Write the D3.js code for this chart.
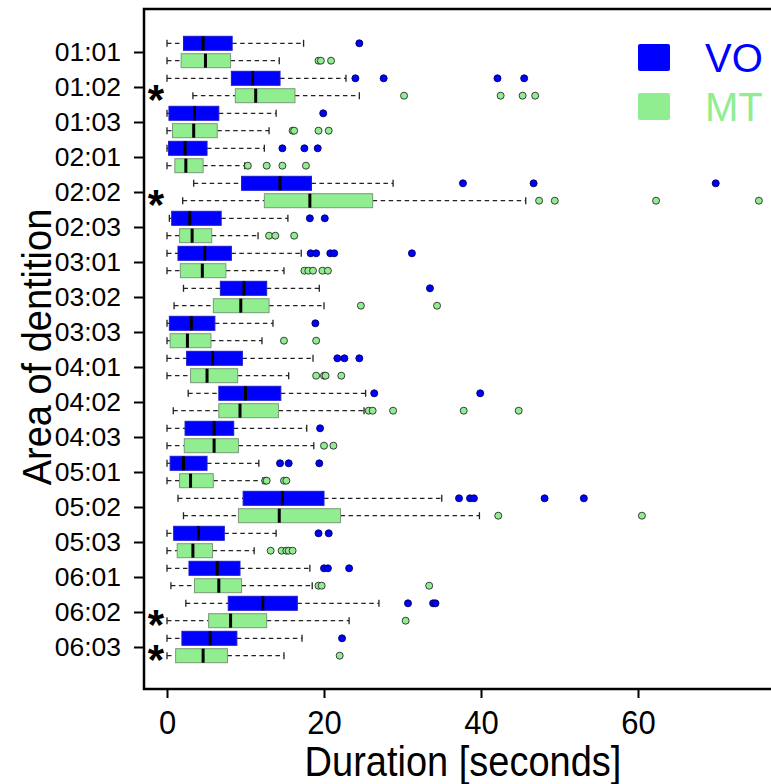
<!DOCTYPE html>
<html>
<head>
<meta charset="utf-8">
<script src="https://cdn.jsdelivr.net/npm/d3@7"></script>
<style>
  body { margin: 0; background: #fff; }
  svg { display: block; font-family: "Liberation Sans", Arial, sans-serif; }
</style>
</head>
<body>
<div id="chart"></div>
<script>
// categories (top to bottom)
const areas = ["01:01", "01:02", "01:03", "02:01", "02:02", "02:03", "03:01", "03:02", "03:03",
               "04:01", "04:02", "04:03", "05:01", "05:02", "05:03", "06:01", "06:02", "06:03"];
const significant = ["01:02", "02:02", "06:02", "06:03"];
const seriesNames = ["VO", "MT"];
const xTicks = [0, 20, 40, 60];

// [lower whisker, Q1, median, Q3, upper whisker]
const voStats = [
  [0, 2.1, 4.6, 8.3, 17.4], [0, 8.2, 10.9, 14.4, 22.8], [0, 0.25, 3.5, 6.6, 13.9],
  [0, 0.2, 2.3, 5.1, 12.4], [3.4, 9.5, 14.4, 18.4, 28.8], [0.3, 0.6, 2.9, 6.9, 15.4],
  [0, 1.4, 4.8, 8.2, 17.1], [2.1, 6.8, 9.8, 12.7, 19.4], [0, 0.3, 3.1, 6.1, 13.5],
  [0, 2.5, 5.8, 9.6, 18.6], [2.7, 6.6, 10.0, 14.5, 25.3], [0, 2.3, 6.0, 8.5, 17.8],
  [0, 0.4, 2.1, 5.1, 11.7], [1.4, 9.7, 14.7, 20.0, 35.0], [0, 0.85, 4.0, 7.3, 13.9],
  [0, 2.8, 6.4, 9.3, 18.2], [2.4, 7.8, 12.2, 16.6, 27.0], [0, 1.9, 5.5, 8.9, 17.2]
];
const voOutliers = [
  [24.5], [24.0, 27.6, 42.1, 45.5], [19.9],
  [14.7, 17.5, 19.2], [37.7, 46.7, 69.9], [18.2, 20.1],
  [18.3, 19.0, 20.8, 21.3, 31.2], [33.5], [18.9],
  [21.7, 22.6, 24.5], [26.4, 39.9], [19.5],
  [14.4, 15.5, 19.4], [37.2, 38.6, 39.1, 48.1, 53.1], [19.3, 20.6],
  [20.0, 20.5, 23.2], [30.7, 33.9, 34.2], [22.3]
];
const mtStats = [
  [0, 1.8, 4.9, 8.1, 14.3], [3.3, 8.7, 11.3, 16.3, 24.5], [0, 0.7, 3.4, 6.4, 13.0],
  [0, 1.0, 2.4, 4.6, 9.9], [2.0, 12.4, 18.2, 26.2, 45.7], [0, 1.6, 3.2, 5.7, 11.6],
  [0, 1.7, 4.5, 7.5, 14.9], [0.9, 5.9, 9.4, 13.0, 20.0], [0, 0.4, 2.6, 5.6, 12.1],
  [0, 3.0, 5.1, 9.0, 15.5], [0.8, 6.6, 9.3, 14.2, 25.1], [0, 2.2, 6.0, 9.1, 18.7],
  [0, 1.6, 3.0, 5.9, 12.2], [2.1, 9.1, 14.3, 22.1, 39.8], [0, 1.3, 3.3, 5.8, 11.1],
  [0.5, 3.5, 6.6, 9.5, 18.5], [0, 5.3, 8.1, 12.7, 23.2], [0, 1.1, 4.6, 7.7, 14.9]
];
const mtOutliers = [
  [19.3, 19.6, 20.9], [30.2, 42.5, 45.3, 46.9], [16.0, 16.2, 19.3, 20.6],
  [10.3, 12.7, 14.7, 17.7], [47.4, 49.4, 62.3, 75.4], [13.0, 13.8, 16.2],
  [17.5, 18.0, 18.6, 19.8, 20.5], [24.7, 34.4], [14.9, 19.0],
  [19.0, 20.0, 20.2, 22.2], [25.7, 26.2, 28.8, 37.8, 44.8], [20.0, 21.2],
  [12.5, 12.7, 14.9, 15.2], [42.2, 60.5], [13.2, 14.6, 15.2, 15.5, 16.0],
  [19.3, 19.7, 33.4], [30.4], [22.0]
];

const width = 771, height = 784;
const frame = { left: 144, top: 9, right: 800, bottom: 689 };

const svg = d3.select("#chart").append("svg")
  .attr("width", width)
  .attr("height", height);

// scales
const x = d3.scaleLinear().domain([0, 60]).range([167, 638]);
const y = d3.scalePoint().domain(areas).range([52, 647]);
const offset = d3.scalePoint().domain(seriesNames).range([-8.7, 8.7]);
const boxH = 14;

const fill = d3.scaleOrdinal().domain(seriesNames).range(["#0000ff", "#90ee90"]);
const border = d3.scaleOrdinal().domain(seriesNames).range(["#1a1ad0", "#7a9a7a"]);
const ptStroke = d3.scaleOrdinal().domain(seriesNames).range(["#000060", "#2a2a2a"]);

const rows = [];
areas.forEach((a, i) => {
  rows.push({ area: a, key: "VO", s: voStats[i], out: voOutliers[i] });
  rows.push({ area: a, key: "MT", s: mtStats[i], out: mtOutliers[i] });
});

const plot = svg.append("g");

const g = plot.selectAll("g.box")
  .data(rows)
  .enter()
  .append("g")
  .attr("transform", d => `translate(0, ${y(d.area) + offset(d.key)})`);

// whiskers
g.append("line")
  .attr("x1", d => x(d.s[0])).attr("x2", d => x(d.s[1]))
  .attr("stroke", "#222").attr("stroke-width", 1.2).attr("stroke-dasharray", "4.5,3.5");
g.append("line")
  .attr("x1", d => x(d.s[3])).attr("x2", d => x(d.s[4]))
  .attr("stroke", "#222").attr("stroke-width", 1.2).attr("stroke-dasharray", "4.5,3.5");
// caps
[0, 4].forEach(k => {
  g.append("line")
    .attr("x1", d => x(d.s[k])).attr("x2", d => x(d.s[k]))
    .attr("y1", -3.5).attr("y2", 3.5)
    .attr("stroke", "#222").attr("stroke-width", 1.3);
});
// boxes
g.append("rect")
  .attr("x", d => x(d.s[1]))
  .attr("y", -boxH / 2)
  .attr("width", d => x(d.s[3]) - x(d.s[1]))
  .attr("height", boxH)
  .attr("fill", d => fill(d.key))
  .attr("stroke", d => border(d.key))
  .attr("stroke-width", 1);
// medians
g.append("line")
  .attr("x1", d => x(d.s[2])).attr("x2", d => x(d.s[2]))
  .attr("y1", -boxH / 2).attr("y2", boxH / 2)
  .attr("stroke", "#000").attr("stroke-width", 3);
// outliers
g.selectAll("circle")
  .data(d => d.out.map(v => ({ v, key: d.key })))
  .enter()
  .append("circle")
  .attr("cx", d => x(d.v))
  .attr("cy", 0)
  .attr("r", 3.5)
  .attr("fill", d => fill(d.key))
  .attr("stroke", d => ptStroke(d.key))
  .attr("stroke-width", 0.9);

// significance marks
plot.selectAll("text.star")
  .data(significant)
  .enter()
  .append("text")
  .attr("x", 156)
  .attr("y", d => y(d) + 27)
  .attr("text-anchor", "middle")
  .style("font-size", "42px")
  .style("font-weight", "bold")
  .text("*");

// frame
svg.append("rect")
  .attr("x", frame.left).attr("y", frame.top)
  .attr("width", frame.right - frame.left)
  .attr("height", frame.bottom - frame.top)
  .attr("fill", "none")
  .attr("stroke", "#000")
  .attr("stroke-width", 2.5);

// y axis
const yAxis = svg.append("g")
  .attr("transform", `translate(${frame.left}, 0)`)
  .call(d3.axisLeft(y).tickSize(10).tickPadding(13));
yAxis.select(".domain").remove();
yAxis.selectAll(".tick line").attr("stroke-width", 2);
yAxis.selectAll("text")
  .style("font-size", "26.5px")
  .style("font-family", "Liberation Sans, Arial, sans-serif")
  .attr("fill", "#000");

// x axis
const xAxis = svg.append("g")
  .attr("transform", `translate(0, ${frame.bottom})`)
  .call(d3.axisBottom(x).tickValues(xTicks).tickSize(9).tickPadding(10));
xAxis.select(".domain").remove();
xAxis.selectAll(".tick line").attr("stroke-width", 2);
xAxis.selectAll("text")
  .attr("transform", "scale(1, 1.1)")
  .style("font-size", "31px")
  .style("font-family", "Liberation Sans, Arial, sans-serif")
  .attr("fill", "#000");

// axis titles
svg.append("text")
  .attr("transform", "translate(463, 776) scale(1, 1.1)")
  .attr("text-anchor", "middle")
  .style("font-size", "38px")
  .text("Duration [seconds]");

svg.append("text")
  .attr("transform", "translate(51, 347) rotate(-90) scale(1, 1.08)")
  .attr("text-anchor", "middle")
  .style("font-size", "38px")
  .text("Area of dentition");

// legend
const legend = svg.append("g").attr("transform", "translate(638, 44)");
seriesNames.forEach((key, i) => {
  const lg = legend.append("g").attr("transform", `translate(0, ${i * 49})`);
  lg.append("rect")
    .attr("width", 32).attr("height", 27).attr("rx", 2)
    .attr("fill", fill(key));
  lg.append("text")
    .attr("x", 67).attr("y", 28)
    .style("font-size", "40px")
    .attr("fill", fill(key))
    .text(key);
});
</script>
</body>
</html>
